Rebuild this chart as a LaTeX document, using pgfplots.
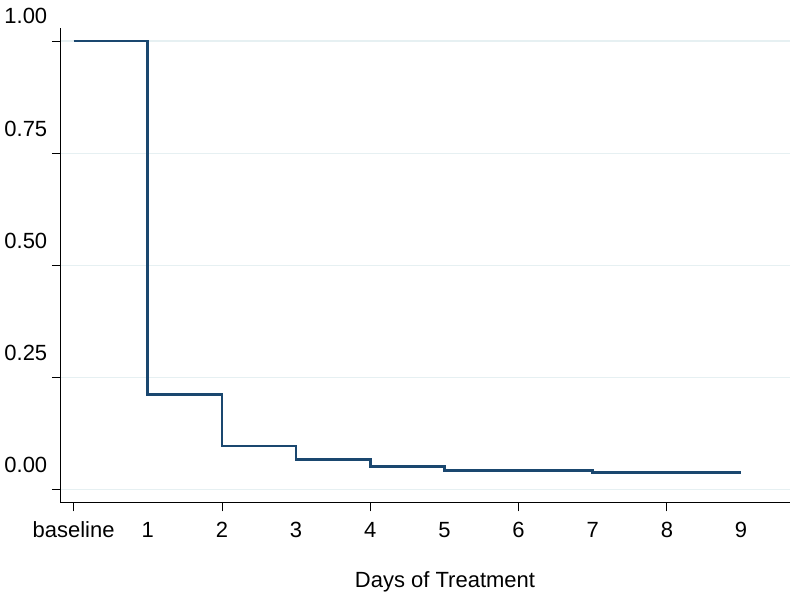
\documentclass[border=0pt]{standalone}
\usepackage{pgfplots}
\pgfplotsset{compat=1.18}
\usepackage{fontspec}
\setmainfont{Liberation Sans}
\usetikzlibrary{calc}
\definecolor{kmline}{HTML}{1A476F}
\definecolor{gridc}{HTML}{E6F0F2}
\begin{document}
\begin{tikzpicture}[x=0.75pt,y=0.75pt]
\begin{axis}[
  scale only axis,
  width=547.5pt, height=356.25pt,
  xmin=-0.175, xmax=9.66,
  ymin=-0.029, ymax=1.029,
  axis lines=left,
  axis line style={-, black, line width=0.6pt},
  tick align=outside,
  major tick length=6.5pt,
  tick style={black, line width=0.6pt},
  font=\fontsize{16.5}{19}\selectfont,
  xtick={0,2,4,6,8},
  xticklabels={baseline,2,4,6,8},
  extra x ticks={1,3,5,7,9},
  extra x tick labels={1,3,5,7,9},
  extra x tick style={major tick style={draw=none}, grid=none},
  xticklabel style={anchor=base, yshift=-20pt},
  ytick={0,0.25,0.5,0.75,1},
  yticklabels={0.00,0.25,0.50,0.75,1.00},
  yticklabel style={anchor=base east, yshift=12.75pt},
  ymajorgrids,
  grid style={gridc, line width=0.8pt},
  xlabel={Days of Treatment},
  xlabel style={at={(axis description cs:0.527,-0.136)}, anchor=north},
  clip=false,
]
\addplot[const plot, kmline, line width=2pt] coordinates {
  (0,1) (1,0.212) (2,0.097) (3,0.067) (4,0.051) (5,0.042) (7,0.038) (9,0.038)
};
\end{axis}
\useasboundingbox ($(current axis.south west)+(-45pt,-74.25pt)$) rectangle ($(current axis.north east)+(7.5pt,21pt)$);
\end{tikzpicture}
\end{document}
